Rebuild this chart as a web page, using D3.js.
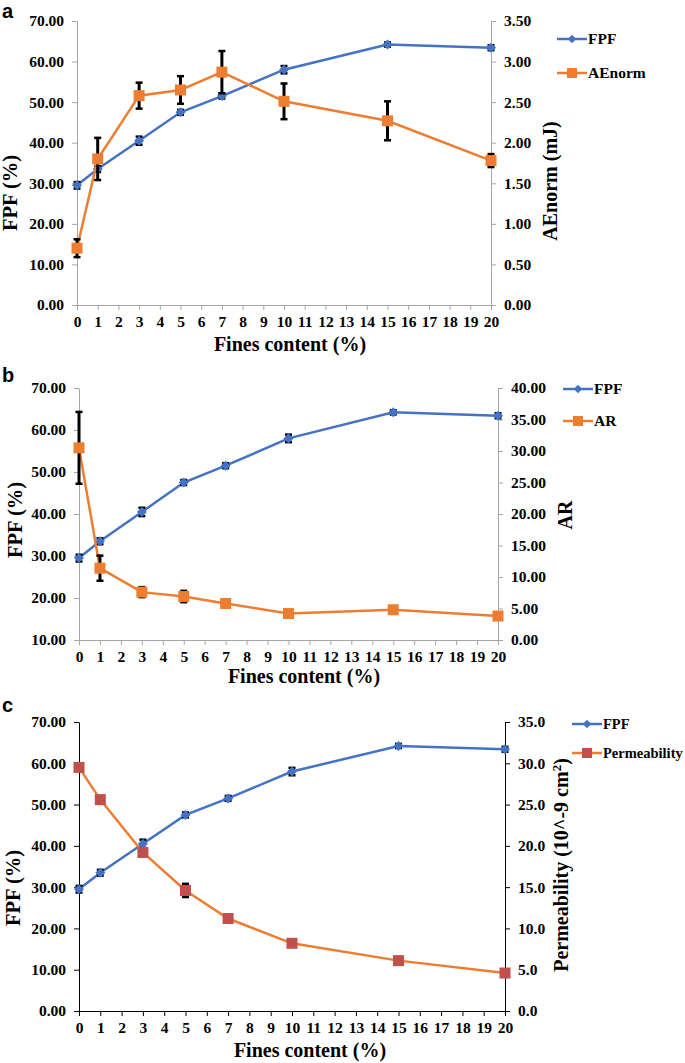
<!DOCTYPE html>
<html>
<head>
<meta charset="utf-8">
<script src="https://cdnjs.cloudflare.com/ajax/libs/d3/7.8.5/d3.min.js"></script>
<style>
  body { margin: 0; background: #fff; }
  svg text { font-family: "Liberation Serif", "Times New Roman", serif; font-weight: bold; fill: #000; }
  svg text.panel-letter { font-family: "Liberation Sans", Arial, sans-serif; }
</style>
</head>
<body>
<svg width="685" height="1063"></svg>
<script>
// x values (fines content, %)
var fines = [0, 1, 3, 5, 7, 10, 15, 20];
var xTicks = [0, 1, 2, 3, 4, 5, 6, 7, 8, 9, 10, 11, 12, 13, 14, 15, 16, 17, 18, 19, 20];

// FPF (%) - same series on all three panels
var fpf    = [29.5, 33.5, 40.5, 47.5, 51.5, 58.0, 64.2, 63.4];
var fpfErr = [0.8, 0.7, 1.0, 0.6, 0.6, 0.9, 0.5, 0.6];

// panel a: AEnorm (mJ)
var aeNorm    = [0.70, 1.80, 2.58, 2.65, 2.87, 2.51, 2.27, 1.78];
var aeNormErr = [0.11, 0.26, 0.16, 0.17, 0.26, 0.22, 0.24, 0.08];

// panel b: AR
var ar    = [30.5, 11.4, 7.6, 6.9, 5.8, 4.2, 4.8, 3.8];
var arErr = [5.7, 2.0, 0.8, 0.9, 0.4, 0.3, 0.4, 0.3];

// panel c: permeability (10^-9 cm2)
var perm    = [29.5, 25.6, 19.2, 14.6, 11.2, 8.2, 6.1, 4.6];
var permErr = [0.3, 0.4, 0.4, 0.8, 0.3, 0.3, 0.2, 0.2];

// tick labels
var fpfTicks  = [0, 10, 20, 30, 40, 50, 60, 70];
var fpfTicksB = [10, 20, 30, 40, 50, 60, 70];
var aeTicks   = [0, 0.5, 1.0, 1.5, 2.0, 2.5, 3.0, 3.5];
var arTicks   = [0, 5, 10, 15, 20, 25, 30, 35, 40];
var permTicks = [0, 5, 10, 15, 20, 25, 30, 35];

var blue = "#4472C4", orange = "#ED7D31", red = "#C0504D";
var serif = "'Liberation Serif', 'Times New Roman', serif";

var svg = d3.select("svg");

var translate = function(x, y) {
  return "translate(" + String(x) + "," + String(y) + ")";
};

var panels = [
  {
    letter: "a", letterY: 18,
    x0: 77, x1: 491, yTop: 21, yBot: 305,
    leftDomain: [0, 70], leftTicks: fpfTicks, leftFmt: ".2f",
    rightDomain: [0, 3.5], rightTicks: aeTicks, rightFmt: ".2f",
    axisColor: "#a6a6a6",
    second: aeNorm, secondErr: aeNormErr, secondName: "AEnorm", markerFill: orange, sq: 11,
    leftTitle: [10, 193], rightTitle: [550, 181], rightLabel: "AEnorm (mJ)",
    xTitle: [290, 351],
    legend: { x: 557, y1: 39, y2: 73, size: 15.5 }
  },
  {
    letter: "b", letterY: 382,
    x0: 79, x1: 498, yTop: 388, yBot: 640,
    leftDomain: [10, 70], leftTicks: fpfTicksB, leftFmt: ".2f",
    rightDomain: [0, 40], rightTicks: arTicks, rightFmt: ".2f",
    axisColor: "#a6a6a6",
    second: ar, secondErr: arErr, secondName: "AR", markerFill: orange, sq: 11,
    leftTitle: [15, 520], rightTitle: [565, 515], rightLabel: "AR",
    xTitle: [304, 683],
    legend: { x: 563, y1: 389, y2: 421, size: 15.5 }
  },
  {
    letter: "c", letterY: 712,
    x0: 79, x1: 505, yTop: 722, yBot: 1011,
    leftDomain: [0, 70], leftTicks: fpfTicks, leftFmt: ".2f",
    rightDomain: [0, 35], rightTicks: permTicks, rightFmt: ".1f",
    axisColor: "#000",
    second: perm, secondErr: permErr, secondName: "Permeability", markerFill: red, sq: 11,
    leftTitle: [13, 888], rightTitle: [561, 865], rightLabel: "perm",
    xTitle: [310, 1057],
    legend: { x: 572, y1: 724, y2: 753, size: 14.5 }
  }
];

var diamond = d3.symbol().type(d3.symbolSquare).size(50);

function drawPanel(p) {
  var x = d3.scaleLinear().domain([0, 20]).range([p.x0, p.x1]);
  var yL = d3.scaleLinear().domain(p.leftDomain).range([p.yBot, p.yTop]);
  var yR = d3.scaleLinear().domain(p.rightDomain).range([p.yBot, p.yTop]);

  var g = svg.append("g");

  // axes
  var xAxis = d3.axisBottom(x).tickValues(xTicks).tickSize(5).tickSizeOuter(0).tickFormat(d3.format("d"));
  var lAxis = d3.axisLeft(yL).tickValues(p.leftTicks).tickSize(5).tickSizeOuter(0).tickFormat(d3.format(p.leftFmt));
  var rAxis = d3.axisRight(yR).tickValues(p.rightTicks).tickSize(5).tickSizeOuter(0).tickFormat(d3.format(p.rightFmt));

  [
    g.append("g").attr("transform", translate(0, p.yBot)).call(xAxis),
    g.append("g").attr("transform", translate(p.x0, 0)).call(lAxis),
    g.append("g").attr("transform", translate(p.x1, 0)).call(rAxis)
  ].forEach(function(a, i) {
    a.attr("font-family", serif).attr("font-weight", "bold").attr("font-size", 15.5);
    a.select(".domain").attr("stroke", p.axisColor);
    a.selectAll(".tick line").attr("stroke", p.axisColor);
    a.selectAll(".tick text").attr("fill", "#000");
    if (i === 0) a.selectAll(".tick text").attr("y", 10).attr("dy", "0.78em");
    if (i === 1) a.selectAll(".tick text").attr("x", -13);
    if (i === 2) a.selectAll(".tick text").attr("x", 13);
  });

  var rowsF = fines.map(function(d, i) { return { x: d, y: fpf[i], e: fpfErr[i] }; });
  var rowsS = fines.map(function(d, i) { return { x: d, y: p.second[i], e: p.secondErr[i] }; });

  function series(rows, y, color, isSquare, fill) {
    g.append("path")
      .datum(rows)
      .attr("fill", "none")
      .attr("stroke", color)
      .attr("stroke-width", 2.5)
      .attr("d", d3.line().x(function(d) { return x(d.x); }).y(function(d) { return y(d.y); }));

    var eb = g.append("g").attr("stroke", "#000");
    eb.selectAll("line.bar").data(rows).enter().append("line")
      .attr("x1", function(d) { return x(d.x); }).attr("x2", function(d) { return x(d.x); })
      .attr("y1", function(d) { return y(d.y - d.e); }).attr("y2", function(d) { return y(d.y + d.e); })
      .attr("stroke-width", 3);
    [-1, 1].forEach(function(s) {
      eb.selectAll("line.cap" + s).data(rows).enter().append("line")
        .attr("x1", function(d) { return x(d.x) - 3.5; }).attr("x2", function(d) { return x(d.x) + 3.5; })
        .attr("y1", function(d) { return y(d.y + s * d.e); }).attr("y2", function(d) { return y(d.y + s * d.e); })
        .attr("stroke-width", 2.5);
    });

    if (isSquare) {
      g.selectAll(null).data(rows).enter().append("rect")
        .attr("x", function(d) { return x(d.x) - p.sq / 2; })
        .attr("y", function(d) { return y(d.y) - p.sq / 2; })
        .attr("width", p.sq).attr("height", p.sq)
        .attr("fill", fill);
    } else {
      g.selectAll(null).data(rows).enter().append("path")
        .attr("d", diamond)
        .attr("transform", function(d) { return translate(x(d.x), y(d.y)) + " rotate(45)"; })
        .attr("fill", color);
    }
  }

  series(rowsF, yL, blue, false);
  series(rowsS, yR, orange, true, p.markerFill);

  // titles
  g.append("text").attr("class", "panel-letter")
    .attr("x", 2).attr("y", p.letterY).attr("font-size", 20).text(p.letter);

  g.append("text")
    .attr("transform", translate(p.xTitle[0], p.xTitle[1]))
    .attr("text-anchor", "middle").attr("font-size", 20)
    .text("Fines content (%)");

  g.append("text")
    .attr("transform", translate(p.leftTitle[0], p.leftTitle[1]) + " rotate(-90)")
    .attr("text-anchor", "middle").attr("dy", "0.35em").attr("font-size", 20.5)
    .text("FPF (%)");

  var rt = g.append("text")
    .attr("transform", translate(p.rightTitle[0], p.rightTitle[1]) + " rotate(-90)")
    .attr("text-anchor", "middle").attr("dy", "0.35em").attr("font-size", 20);
  if (p.rightLabel === "perm") {
    rt.append("tspan").text("Permeability (10^-9 cm");
    rt.append("tspan").attr("baseline-shift", "super").attr("font-size", 13).text("2");
    rt.append("tspan").text(")");
  } else {
    rt.text(p.rightLabel);
  }

  // legend
  var lg = g.append("g");
  var L = p.legend;
  [[L.y1, blue, false, "FPF"], [L.y2, orange, true, p.secondName]].forEach(function(it) {
    lg.append("line").attr("x1", L.x).attr("x2", L.x + 30).attr("y1", it[0]).attr("y2", it[0])
      .attr("stroke", it[1]).attr("stroke-width", 2.5);
    if (it[2]) {
      lg.append("rect").attr("x", L.x + 10).attr("y", it[0] - 5).attr("width", 10).attr("height", 10)
        .attr("fill", p.markerFill);
    } else {
      lg.append("path").attr("d", d3.symbol().type(d3.symbolSquare).size(36))
        .attr("transform", translate(L.x + 15, it[0]) + " rotate(45)").attr("fill", blue);
    }
    lg.append("text").attr("x", L.x + 31).attr("y", it[0]).attr("dy", "0.35em")
      .attr("font-size", L.size).text(it[3]);
  });
}

panels.forEach(drawPanel);
</script>
</body>
</html>
